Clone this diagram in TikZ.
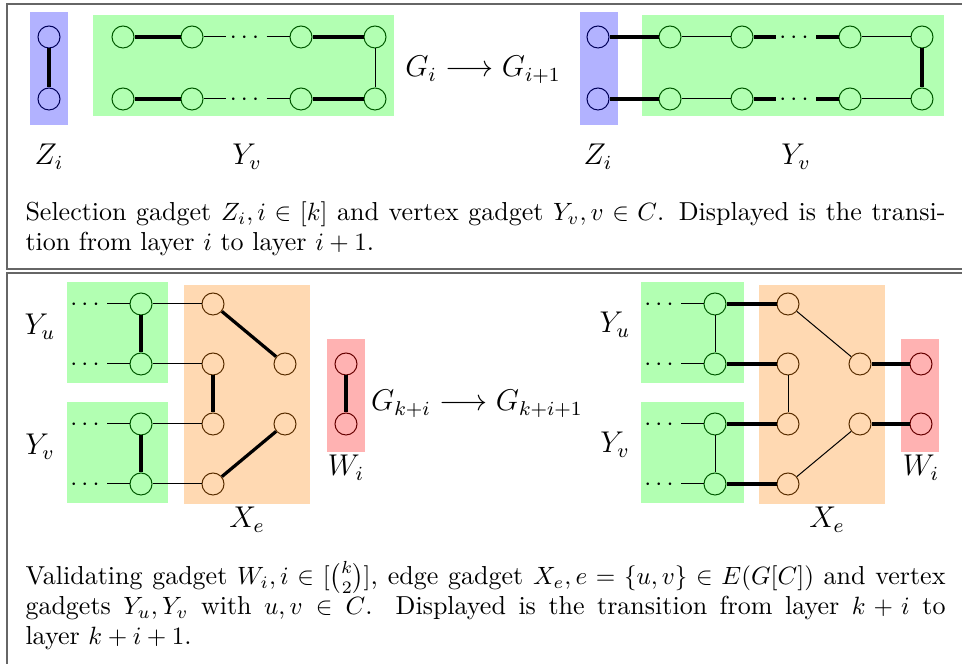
\documentclass[tikz,border=0pt]{standalone}
\usepackage{amsmath}
\usepackage{tikz}
\usetikzlibrary{positioning}

\begin{document}
\begin{tikzpicture}[x=0.4pt, y=-0.4pt]

    \tikzset{
        vertex/.style={
            draw,
            circle,
            inner sep=0pt,
            minimum size=8.8pt
        },
        zvertex/.style={vertex, draw=blue!35!black},
        yvertex/.style={vertex, draw=green!35!black},
        xvertex/.style={vertex, draw=orange!35!black},
        wvertex/.style={vertex, draw=red!40!black},
        heavy/.style={line width=1.3pt},
        dots/.style={inner sep=1.2pt, text height=5pt, text depth=0pt},
        lbl/.style={font=\large},
        frame/.style={draw=black!60, line width=0.7pt},
        caption/.style={anchor=base west, text width=368pt, align=justify, inner sep=0pt,
            font=\fontsize{10.4pt}{12pt}\selectfont}
    }

    \useasboundingbox (0,0) rectangle (962,664);
    \draw[frame] (7,4) rectangle (980,269);
    \draw[frame] (7,273) rectangle (980,690);

    \fill[blue!30] (30,12) rectangle (68,125);
    \fill[green!30] (93,15) rectangle (394,116);
    \node[zvertex] (Z1) at (49,37) {};
    \node[zvertex] (Z2) at (49,99) {};
    \node[yvertex] (A1) at (123,37) {};
    \node[yvertex] (A2) at (192,37) {};
    \node[dots] (DA) at (246.5,37) {$\cdots$};
    \node[yvertex] (A3) at (301,37) {};
    \node[yvertex] (A4) at (375,37) {};
    \node[yvertex] (B1) at (123,99) {};
    \node[yvertex] (B2) at (192,99) {};
    \node[dots] (DB) at (246.5,99) {$\cdots$};
    \node[yvertex] (B3) at (301,99) {};
    \node[yvertex] (B4) at (375,99) {};

    \draw[heavy] (Z1) -- (Z2);
    \draw[heavy] (A1) -- (A2);
    \draw (A2) -- (DA) -- (A3);
    \draw[heavy] (A3) -- (A4);
    \draw[heavy] (B1) -- (B2);
    \draw (B2) -- (DB) -- (B3);
    \draw[heavy] (B3) -- (B4);
    \draw (A4) -- (B4);

    \node[lbl] (ZL) at (49,157) {$Z_i$};
    \node[lbl] (YL) at (247,157) {$Y_v$};
    \node[lbl] (GA) at (483,70) {$G_i \longrightarrow G_{i+1}$};

    \fill[blue!30] (580,12) rectangle (618,125);
    \fill[green!30] (642,15) rectangle (944,116);
    \node[zvertex] (Z3) at (598,37) {};
    \node[zvertex] (Z4) at (598,99) {};
    \node[yvertex] (C1) at (670,37) {};
    \node[yvertex] (C2) at (742,37) {};
    \node[dots] (DC) at (796,37) {$\cdots$};
    \node[yvertex] (C3) at (850,37) {};
    \node[yvertex] (C4) at (922,37) {};
    \node[yvertex] (E1) at (670,99) {};
    \node[yvertex] (E2) at (742,99) {};
    \node[dots] (DE) at (796,99) {$\cdots$};
    \node[yvertex] (E3) at (850,99) {};
    \node[yvertex] (E4) at (922,99) {};

    \draw[heavy] (Z3) -- (C1);
    \draw[heavy] (Z4) -- (E1);
    \draw (C1) -- (C2);
    \draw[heavy] (C2) -- (DC) -- (C3);
    \draw (C3) -- (C4);
    \draw (E1) -- (E2);
    \draw[heavy] (E2) -- (DE) -- (E3);
    \draw (E3) -- (E4);
    \draw[heavy] (C4) -- (E4);

    \node[lbl] (ZR) at (598,157) {$Z_i$};
    \node[lbl] (YR) at (796,157) {$Y_v$};

    \node[caption] (capA) at (25,221) {Selection gadget $Z_i, i \in [k]$ and vertex gadget $Y_v, v \in C$. Displayed is the transi-\linebreak tion from layer $i$ to layer $i+1$.};

    \fill[green!30] (67,282) rectangle (168,383);
    \fill[green!30] (67,402) rectangle (168,503);
    \fill[orange!30] (184,285) rectangle (310,504);
    \fill[red!30] (327,339) rectangle (365,452);
    \node[dots] (DU1) at (87,304) {$\cdots$};
    \node[dots] (DU2) at (87,364) {$\cdots$};
    \node[dots] (DV1) at (87,424) {$\cdots$};
    \node[dots] (DV2) at (87,484) {$\cdots$};
    \node[yvertex] (U1) at (141,304) {};
    \node[yvertex] (U2) at (141,364) {};
    \node[yvertex] (V1) at (141,424) {};
    \node[yvertex] (V2) at (141,484) {};
    \node[xvertex] (X1) at (213,304) {};
    \node[xvertex] (X2) at (213,364) {};
    \node[xvertex] (X3) at (213,424) {};
    \node[xvertex] (X4) at (213,484) {};
    \node[xvertex] (X5) at (285,364) {};
    \node[xvertex] (X6) at (285,424) {};
    \node[wvertex] (W1) at (346,364) {};
    \node[wvertex] (W2) at (346,424) {};

    \draw (DU1) -- (U1) -- (X1);
    \draw (DU2) -- (U2) -- (X2);
    \draw (DV1) -- (V1) -- (X3);
    \draw (DV2) -- (V2) -- (X4);
    \draw[heavy] (U1) -- (U2);
    \draw[heavy] (V1) -- (V2);
    \draw[heavy] (X1) -- (X5);
    \draw[heavy] (X2) -- (X3);
    \draw[heavy] (X4) -- (X6);
    \draw[heavy] (W1) -- (W2);

    \node[lbl] (YUL) at (40,327) {$Y_u$};
    \node[lbl] (YVL) at (40,447) {$Y_v$};
    \node[lbl] (WL) at (346,468) {$W_i$};
    \node[lbl] (XL) at (247,520) {$X_e$};
    \node[lbl] (GB) at (477,404) {$G_{k+i} \longrightarrow G_{k+i+1}$};

    \fill[green!30] (641,282) rectangle (744,383);
    \fill[green!30] (641,402) rectangle (744,503);
    \fill[orange!30] (759,285) rectangle (885,504);
    \fill[red!30] (901,339) rectangle (939,452);
    \node[dots] (DP1) at (661,304) {$\cdots$};
    \node[dots] (DP2) at (661,364) {$\cdots$};
    \node[dots] (DQ1) at (661,424) {$\cdots$};
    \node[dots] (DQ2) at (661,484) {$\cdots$};
    \node[yvertex] (P1) at (715,304) {};
    \node[yvertex] (P2) at (715,364) {};
    \node[yvertex] (Q1) at (715,424) {};
    \node[yvertex] (Q2) at (715,484) {};
    \node[xvertex] (R1) at (788,304) {};
    \node[xvertex] (R2) at (788,364) {};
    \node[xvertex] (R3) at (788,424) {};
    \node[xvertex] (R4) at (788,484) {};
    \node[xvertex] (R5) at (860,364) {};
    \node[xvertex] (R6) at (860,424) {};
    \node[wvertex] (S1) at (921,364) {};
    \node[wvertex] (S2) at (921,424) {};

    \draw (DP1) -- (P1);
    \draw (DP2) -- (P2);
    \draw (DQ1) -- (Q1);
    \draw (DQ2) -- (Q2);
    \draw[heavy] (P1) -- (R1);
    \draw[heavy] (P2) -- (R2);
    \draw[heavy] (Q1) -- (R3);
    \draw[heavy] (Q2) -- (R4);
    \draw (P1) -- (P2);
    \draw (Q1) -- (Q2);
    \draw (R1) -- (R5);
    \draw (R2) -- (R3);
    \draw (R4) -- (R6);
    \draw[heavy] (R5) -- (S1);
    \draw[heavy] (R6) -- (S2);

    \node[lbl] (YUR) at (615,325) {$Y_u$};
    \node[lbl] (YVR) at (615,445) {$Y_v$};
    \node[lbl] (WR) at (921,468) {$W_i$};
    \node[lbl] (XR) at (827,520) {$X_e$};

    \node[caption] (capB) at (25,585) {Validating gadget $W_i, i \in [\binom{k}{2}]$, edge gadget $X_e, e = \{u,v\} \in E(G[C])$ and vertex gadgets $Y_u, Y_v$ with $u, v \in C$. Displayed is the transition from layer $k+i$ to\linebreak layer $k+i+1$.};

\end{tikzpicture}
\end{document}
